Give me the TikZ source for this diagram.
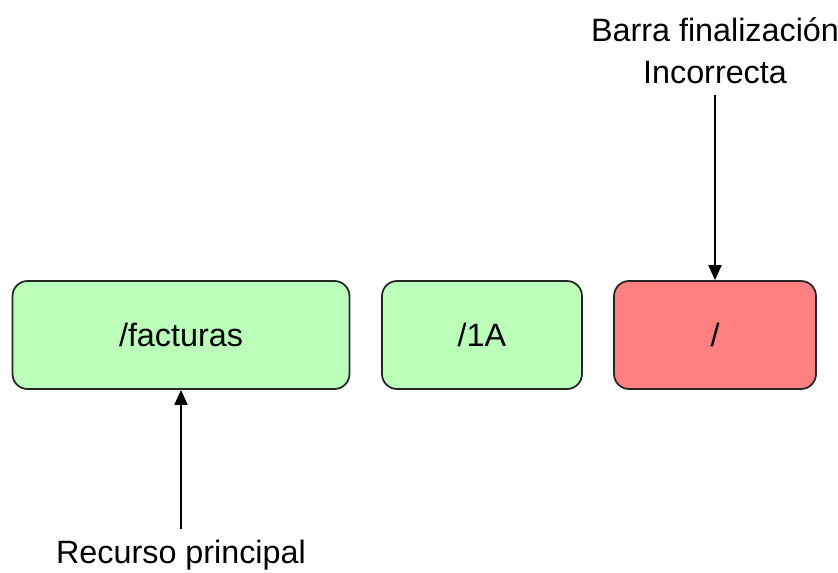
\documentclass[tikz,border=0pt]{standalone}
\usepackage{fontspec}
\setmainfont{Liberation Sans}
\usetikzlibrary{arrows.meta}
\definecolor{okgreen}{HTML}{BBFFBB}
\definecolor{badred}{HTML}{FF8080}
\tikzset{
  seg/.style={rectangle,rounded corners=0.3cm,draw=black!85,line width=1pt,
    minimum height=2.16cm,font=\fontsize{18.4}{22.8}\selectfont},
  txt/.style={draw=none,inner xsep=3pt,inner ysep=6pt,align=center,font=\fontsize{18.4}{24}\selectfont},
  arr/.style={-{Triangle[length=0.3cm,width=0.26cm]},line width=1pt}
}
\begin{document}
\begin{tikzpicture}[x=0.02cm,y=-0.02cm]
\useasboundingbox (0,0) rectangle (838,572);
% segmentos de la ruta
\node (seg1) [seg,fill=okgreen,minimum width=6.74cm] at (181,335) {/facturas};
\node (seg2) [seg,fill=okgreen,minimum width=4cm] at (482,335) {/1A};
\node (seg3) [seg,fill=badred,minimum width=4.04cm] at (715,335) {/};
% etiquetas
\node (lbl1) [txt,anchor=north] at (181,529) {Recurso principal};
\node (lbl2) [txt,anchor=south] at (715,95) {Barra finalización\\Incorrecta};
%
\path[arr](lbl1) edge (seg1);
\path[arr](lbl2) edge (seg3);
\end{tikzpicture}
\end{document}
